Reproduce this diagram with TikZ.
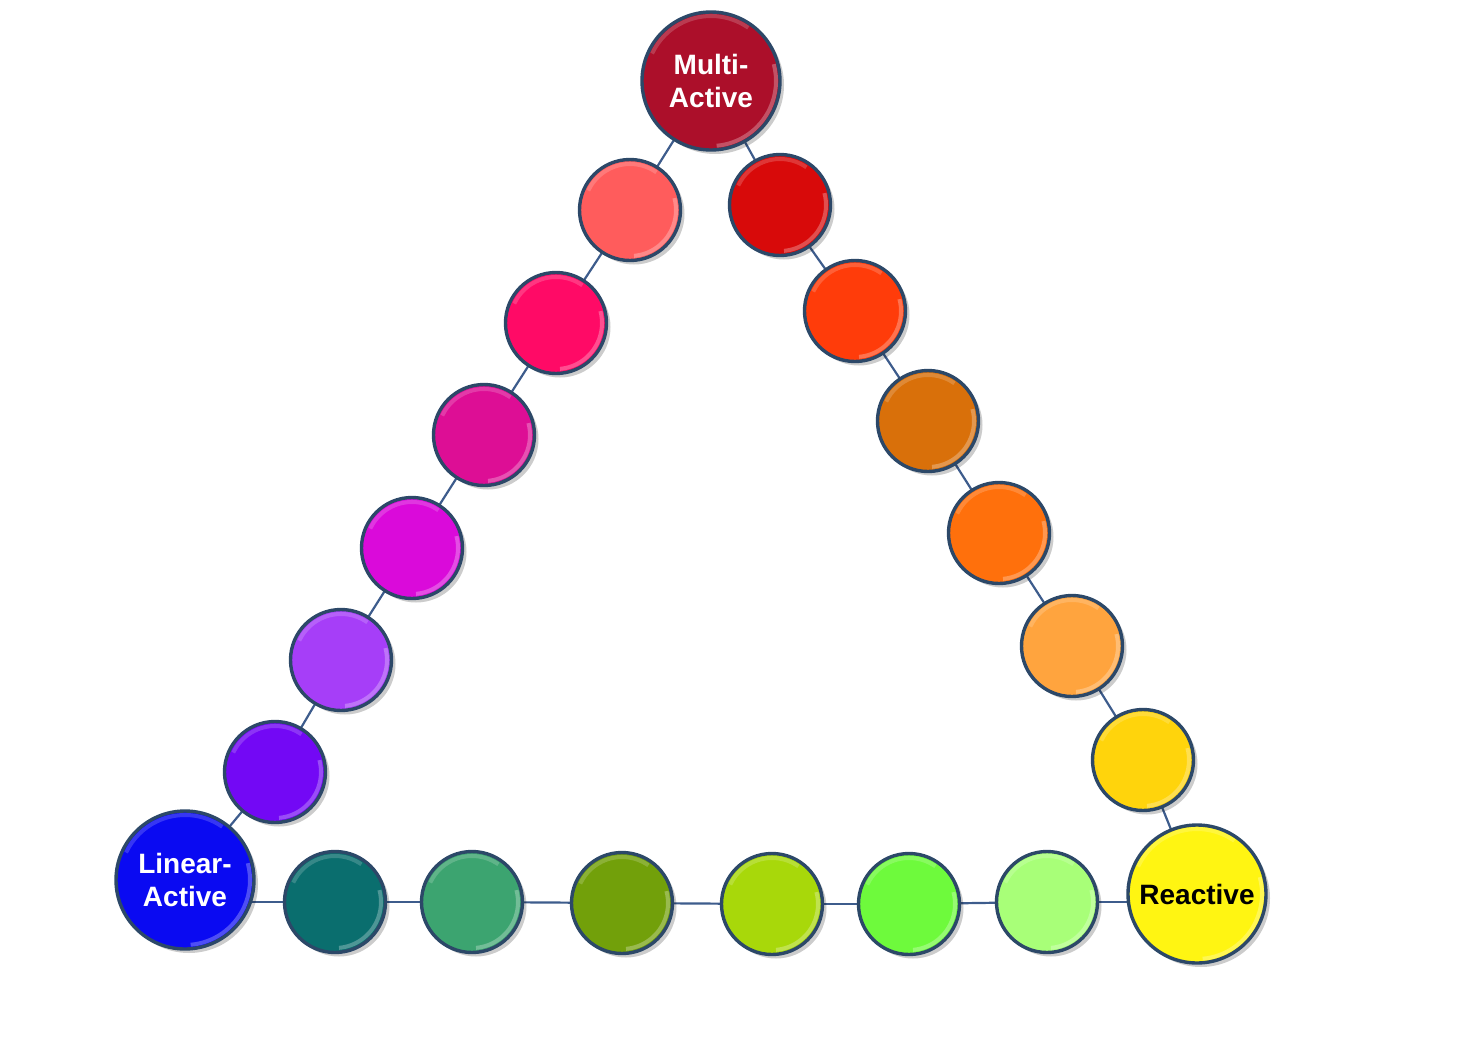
\documentclass[tikz,border=0pt]{standalone}
\usepackage{fontspec}
\setmainfont{Liberation Sans}
\usetikzlibrary{shadows,backgrounds}

% ring colours
\definecolor{rimblue}{HTML}{2C4868}
\definecolor{linkblue}{HTML}{3D5C8C}
\definecolor{cMulti}{HTML}{AC0F2A}
\definecolor{cLinear}{HTML}{0A0AF2}
\definecolor{cReact}{HTML}{FFF512}
% left side, top to bottom
\definecolor{cLa}{HTML}{FF5C5C}
\definecolor{cLb}{HTML}{FF0A66}
\definecolor{cLc}{HTML}{DD0E95}
\definecolor{cLd}{HTML}{DA0ADA}
\definecolor{cLe}{HTML}{A63EF8}
\definecolor{cLf}{HTML}{7308F5}
% right side, top to bottom
\definecolor{cRa}{HTML}{D80A0A}
\definecolor{cRb}{HTML}{FF3C0A}
\definecolor{cRc}{HTML}{D9700A}
\definecolor{cRd}{HTML}{FF700C}
\definecolor{cRe}{HTML}{FFA43E}
\definecolor{cRf}{HTML}{FFD40C}
% bottom, left to right
\definecolor{cBa}{HTML}{0A6E6E}
\definecolor{cBb}{HTML}{3CA470}
\definecolor{cBc}{HTML}{72A00A}
\definecolor{cBd}{HTML}{A8D80A}
\definecolor{cBe}{HTML}{6EFA3C}
\definecolor{cBf}{HTML}{A8FF78}

\newcommand\ballbevel[1]{%
  \draw[white, opacity=.18, line width=4pt]
    ([shift={(55:#1)}]path picture bounding box.center) arc[start angle=55, end angle=155, radius=#1];
  \draw[white, opacity=.28, line width=4pt]
    ([shift={(-85:#1)}]path picture bounding box.center) arc[start angle=-85, end angle=15, radius=#1];}

\tikzset{
  ball/.style={circle, minimum size=101pt, inner sep=0pt, draw=rimblue, line width=3.4pt,
    drop shadow={shadow xshift=4pt, shadow yshift=-4pt, opacity=.2, fill=black},
    path picture={\ballbevel{46pt}}},
  bigball/.style={ball, minimum size=138pt, path picture={\ballbevel{65pt}},
    font=\bfseries\fontsize{28}{33}\selectfont, align=center, text=white},
  link/.style={draw=linkblue, line width=2.2pt}
}

\begin{document}
\begin{tikzpicture}[x=1pt, y=-1pt]
  \useasboundingbox (0,0) rectangle (1468,1039);

  % Corners
  \node[bigball, fill=cMulti]  (multi)  at (711,81)  {Multi-\\Active};
  \node[bigball, fill=cLinear] (linear) at (185,880) {Linear-\\Active};
  \node[bigball, fill=cReact, text=black] (react) at (1197,894) {Reactive};

  % Left side
  \node[ball, fill=cLa] (la) at (630,210) {};
  \node[ball, fill=cLb] (lb) at (556,323) {};
  \node[ball, fill=cLc] (lc) at (484,435) {};
  \node[ball, fill=cLd] (ld) at (412,548) {};
  \node[ball, fill=cLe] (le) at (341,660) {};
  \node[ball, fill=cLf] (lf) at (275,772) {};

  % Right side
  \node[ball, fill=cRa] (ra) at (780,205) {};
  \node[ball, fill=cRb] (rb) at (855,311) {};
  \node[ball, fill=cRc] (rc) at (928,421) {};
  \node[ball, fill=cRd] (rd) at (999,533) {};
  \node[ball, fill=cRe] (re) at (1072,646) {};
  \node[ball, fill=cRf] (rf) at (1143,760) {};

  % Bottom
  \node[ball, fill=cBa] (ba) at (335,902)  {};
  \node[ball, fill=cBb] (bb) at (472,902)  {};
  \node[ball, fill=cBc] (bc) at (622,903)  {};
  \node[ball, fill=cBd] (bd) at (772,904)  {};
  \node[ball, fill=cBe] (be) at (909,904)  {};
  \node[ball, fill=cBf] (bf) at (1047,902) {};

  % Links, behind the balls
  \begin{pgfonlayer}{background}
    \foreach \a/\b in {multi/la, la/lb, lb/lc, lc/ld, ld/le, le/lf, lf/linear,
                       multi/ra, ra/rb, rb/rc, rc/rd, rd/re, re/rf, rf/react,
                       ba/bb, bb/bc, bc/bd, bd/be, be/bf}
      \draw[link] (\a.center) -- (\b.center);
    \draw[link] (linear.center |- ba.center) -- (ba.center);
    \draw[link] (bf.center) -- (react.center |- bf.center);
  \end{pgfonlayer}
\end{tikzpicture}
\end{document}
